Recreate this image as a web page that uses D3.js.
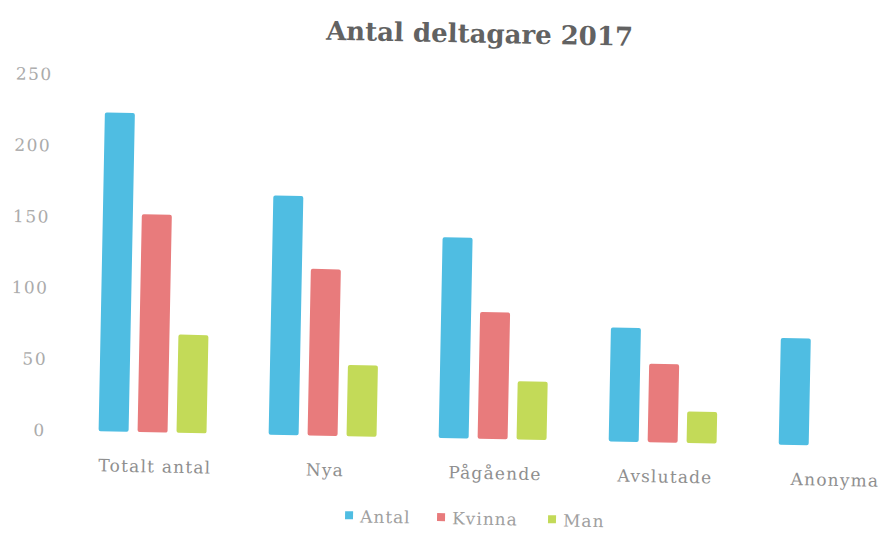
<!DOCTYPE html>
<html><head><meta charset="utf-8">
<script src="https://cdn.jsdelivr.net/npm/d3@7"></script>
<style>body{margin:0;background:#fff}svg{display:block}</style>
</head><body>
<script>
const title = "Antal deltagare 2017";
const categories = ["Totalt antal", "Nya", "Pågående", "Avslutade", "Anonyma"];
const seriesNames = ["Antal", "Kvinna", "Man"];
const antal  = [224, 168, 141, 80, 75];
const kvinna = [153, 117, 89, 55, null];
const man    = [69, 50, 41, 22, null];
const yTicks = [0, 50, 100, 150, 200, 250];
const colors = ["#4fbde2", "#e87b7c", "#c3da58"];

const W = 883, H = 533;
const svg = d3.select("body").append("svg").attr("width", W).attr("height", H);
const g = svg.append("g").attr("transform", "rotate(1.13,441,266)");

const x0 = d3.scaleBand().domain(categories).range([70, 922]).paddingInner(0.26).paddingOuter(0.135);
const x1 = d3.scaleBand().domain(seriesNames).range([0, x0.bandwidth()]).padding(0.23);
const y = d3.scaleLinear().domain([0, 250]).range([438, 82]);

const values = [antal, kvinna, man];
const data = [];
categories.forEach((c, i) => seriesNames.forEach((s, j) => {
  if (values[j][i] != null) data.push({c, s, v: values[j][i], col: colors[j]});
}));

g.append("text").attr("x", 475).attr("y", 42).attr("text-anchor", "middle")
  .attr("font-family", "DejaVu Serif").attr("font-weight", "bold").attr("font-size", 26)
  .attr("fill", "#626262").text(title);

const yAxis = d3.axisLeft(y).tickValues(yTicks).tickSize(0).tickPadding(0);
const ya = g.append("g").attr("transform", "translate(49,0)").call(yAxis);
ya.select(".domain").remove();
ya.selectAll("text").attr("font-family", "DejaVu Serif").attr("font-size", 17)
  .attr("letter-spacing", "1.5px").attr("fill", "#ababab");

g.selectAll("rect.bar").data(data).enter().append("rect").attr("class", "bar")
  .attr("x", d => x0(d.c) + x1(d.s)).attr("width", x1.bandwidth())
  .attr("y", d => y(d.v)).attr("height", d => y(0) - y(d.v))
  .attr("rx", 2).attr("fill", d => d.col);

const xAxis = d3.axisBottom(x0).tickSize(0).tickPadding(0);
const xa = g.append("g").attr("transform", "translate(3,466)").call(xAxis);
xa.select(".domain").remove();
xa.selectAll("text").attr("font-family", "DejaVu Serif").attr("font-size", 17)
  .attr("letter-spacing", "1.2px").attr("fill", "#8f8f8f");

const legendX = [350, 442, 553];
const lg = g.append("g");
seriesNames.forEach((s, j) => {
  lg.append("rect").attr("x", legendX[j]).attr("y", 513).attr("width", 8).attr("height", 8).attr("fill", colors[j]);
  lg.append("text").attr("x", legendX[j] + 15).attr("y", 524).attr("font-family", "DejaVu Serif")
    .attr("font-size", 17).attr("letter-spacing", "1px").attr("fill", "#a0a0a0").text(s);
});
</script>
</body></html>
